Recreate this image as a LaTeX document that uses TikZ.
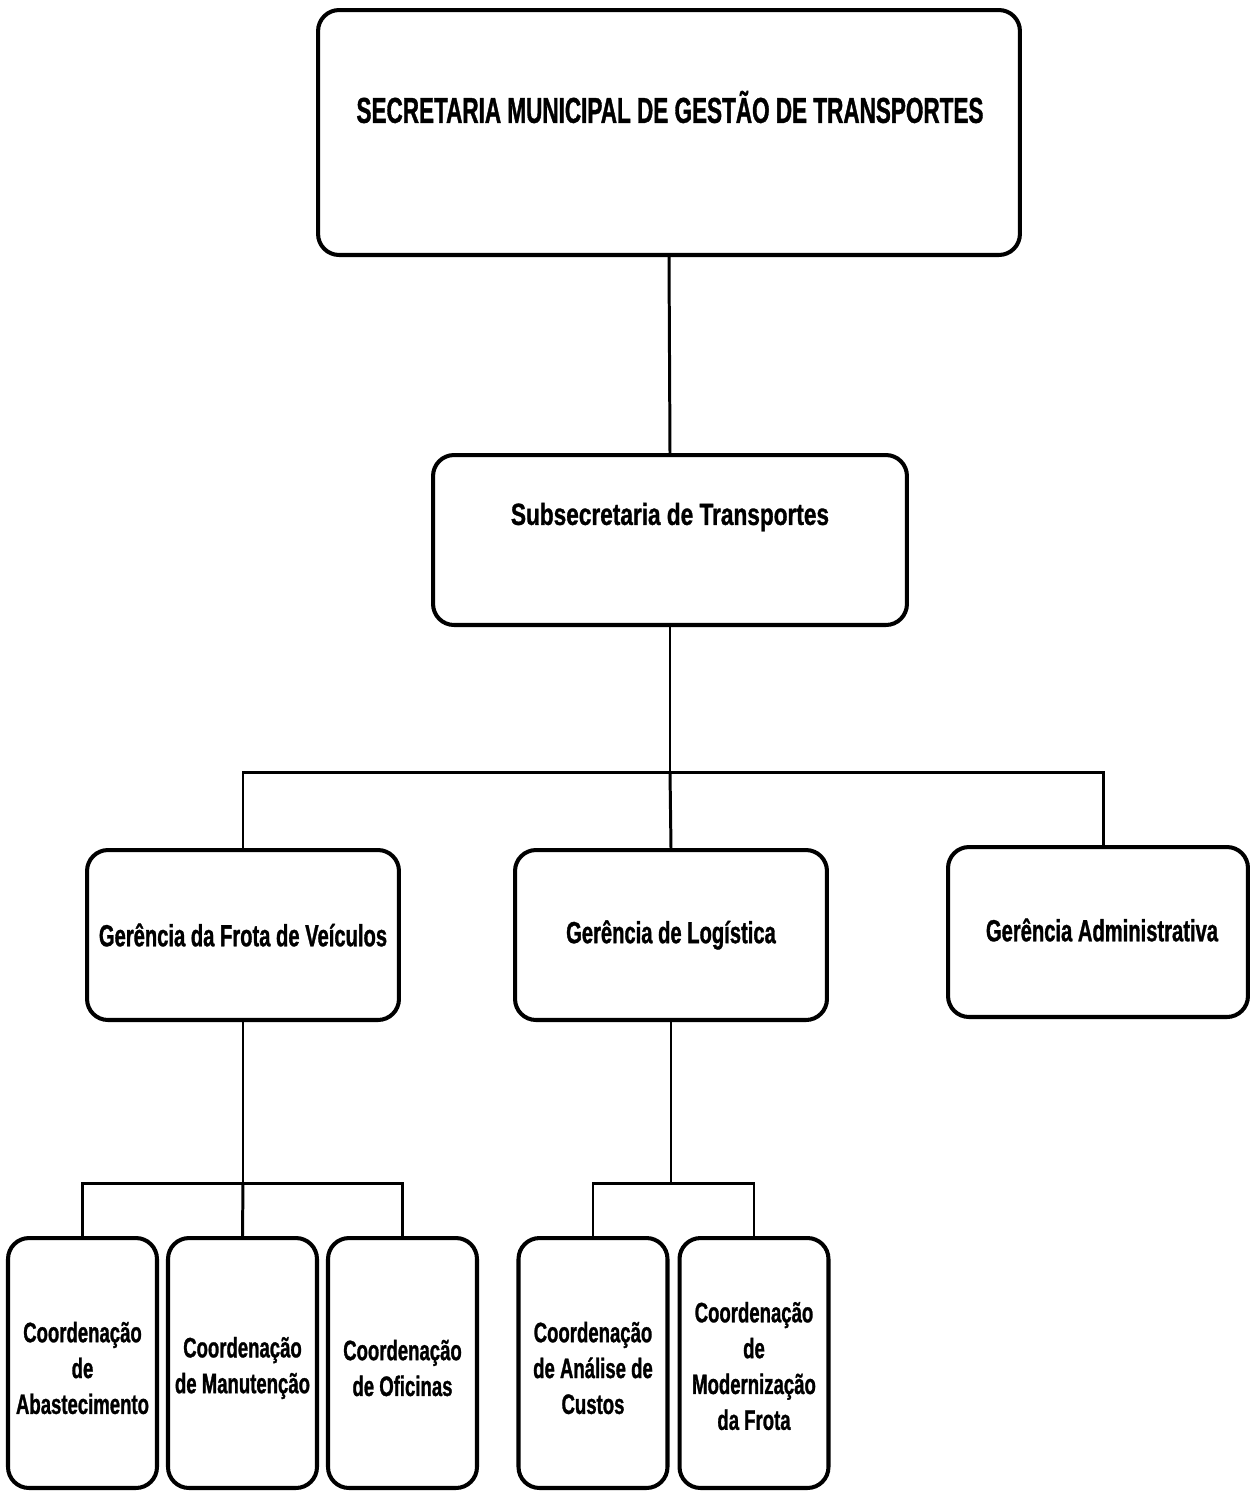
\documentclass[tikz,border=0pt]{standalone}
\usepackage{fontspec}
\setmainfont{Liberation Sans}[FakeStretch=0.66,BoldFeatures={FakeBold=1}]
\newfontfamily\subfont{Liberation Sans}[FakeStretch=0.74,BoldFeatures={FakeBold=1}]
\newfontfamily\headfont{Liberation Sans}[FakeStretch=0.625,BoldFeatures={FakeBold=1}]
\begin{document}
\begin{tikzpicture}[x=0.02cm,y=-0.02cm,
  box/.style={draw,line width=2.3pt,rounded corners=0.42cm,inner sep=0pt},
  wire/.style={line width=1.7pt},
  lbl/.style={align=center,inner sep=0pt,font=\bfseries\fontsize{17.4}{20.5}\selectfont},
  small/.style={lbl,font=\bfseries\fontsize{16}{20.4}\selectfont},
  coordbox/.style={box,minimum width=2.98cm,minimum height=5.0cm}]
\useasboundingbox (0,0) rectangle (1250,1492);

% top level
\node[box,minimum width=14.04cm,minimum height=4.9cm] (sec) at (669,132.5) {};
\node[lbl,font=\headfont\bfseries\fontsize{20.5}{24}\selectfont] (sect) at (670,107) {SECRETARIA MUNICIPAL DE GESTÃO DE TRANSPORTES};

% second level
\node[box,minimum width=9.48cm,minimum height=3.4cm] (sub) at (670,540) {};
\node[lbl,font=\subfont\bfseries\fontsize{17.4}{20.5}\selectfont] (subt) at (670,517) {Subsecretaria de Transportes};

% managers
\node[box,minimum width=6.24cm,minimum height=3.4cm] (gfv) at (243,935) {};
\node[lbl] (gfvt) at (243,935) {Gerência da Frota de Veículos};
\node[box,minimum width=6.24cm,minimum height=3.4cm] (glog) at (671,935) {};
\node[lbl] (glogt) at (671,935) {Gerência de Logística};
\node[box,minimum width=6.0cm,minimum height=3.4cm] (gadm) at (1098,932) {};
\node[lbl] (gadmt) at (1102,930) {Gerência Administrativa};

% coordinations
\node[coordbox] (c1) at (82.5,1363) {};
\node[small] (c1t) at (82.5,1368) {Coordenação\\de\\Abastecimento};
\node[coordbox] (c2) at (242.5,1363) {};
\node[small] (c2t) at (242.5,1368) {Coordenação\\de Manutenção};
\node[coordbox] (c3) at (402.5,1363) {};
\node[small] (c3t) at (402.5,1368) {Coordenação\\de Oficinas};
\node[coordbox] (c4) at (593,1363) {};
\node[small] (c4t) at (593,1368) {Coordenação\\de Análise de\\Custos};
\node[coordbox] (c5) at (754,1363) {};
\node[small] (c5t) at (754,1366) {Coordenação\\de\\Modernização\\da Frota};

% junction points
\coordinate (j0) at (670,772);
\coordinate (j1) at (243,1183);
\coordinate (j2) at (671,1183);

% connectors
\draw[wire] (sec.south) -- (sub.north);
\draw[wire] (sub.south) -- (j0);
\draw[wire] (gfv.north) |- (j0) -| ([xshift=0.1cm]gadm.north);
\draw[wire] (j0) -- (glog.north);
\draw[wire] (gfv.south) -- (j1);
\draw[wire] (c1.north) |- (j1) -| (c3.north);
\draw[wire] (j1) -- (c2.north);
\draw[wire] (glog.south) -- (j2);
\draw[wire] (c4.north) |- (j2) -| (c5.north);
\end{tikzpicture}
\end{document}
